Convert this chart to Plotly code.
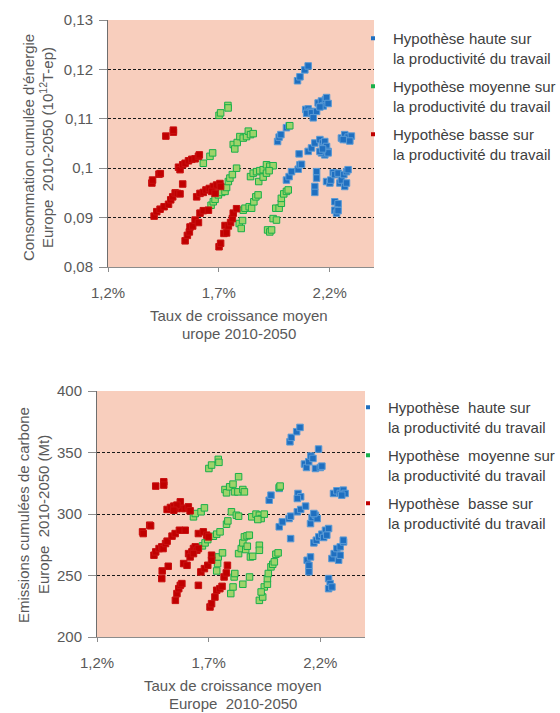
import plotly.graph_objects as go

# ---- Energy chart (growth rate in %, cumulated energy in 10^12 T-ep) ----
energy_haute_x = [2.055, 2.066, 2.088, 2.103, 2.092, 2.103, 2.112, 2.096, 2.118, 2.126, 2.141, 2.148,
                  2.163, 2.171, 2.181, 2.186, 2.193, 2.156, 1.965, 1.972, 1.980, 2.005, 2.017, 2.005,
                  2.017, 2.028, 2.058, 2.066, 2.073, 2.062, 2.103, 2.118, 2.133, 2.156, 2.168, 2.175,
                  2.178, 2.186, 2.193, 2.178, 2.163, 2.156, 2.193, 2.168, 2.141, 2.141, 2.133, 2.133,
                  2.186, 2.201, 2.205, 2.216, 2.223, 2.238, 2.246, 2.253, 2.264, 2.276, 2.283, 2.268,
                  2.276, 2.223, 2.238, 2.223, 2.231, 2.238, 2.253, 2.268, 2.276, 2.283, 2.298, 2.291,
                  2.261]
energy_haute_y = [0.1177, 0.1185, 0.1199, 0.1207, 0.1119, 0.1120, 0.1115, 0.1111, 0.1112, 0.1102, 0.1115,
                  0.1132, 0.1136, 0.1126, 0.1139, 0.1143, 0.1131, 0.1124, 0.1054, 0.1063, 0.1068, 0.1082,
                  0.1086, 0.0976, 0.0983, 0.0993, 0.0998, 0.1007, 0.1008, 0.1029, 0.1034, 0.1041, 0.1051,
                  0.1058, 0.1051, 0.1044, 0.1054, 0.1044, 0.1034, 0.1027, 0.1031, 0.1034, 0.1031, 0.1039,
                  0.0993, 0.0980, 0.0963, 0.0951, 0.0973, 0.0970, 0.0976, 0.0991, 0.0987, 0.0990, 0.0970,
                  0.0976, 0.0987, 0.0993, 0.0997, 0.0963, 0.0970, 0.0932, 0.0928, 0.0915, 0.0909, 0.0914,
                  0.1061, 0.1068, 0.1058, 0.1063, 0.1065, 0.1055, 0.1058]

energy_moyenne_x = [1.701, 1.708, 1.741, 1.742, 1.630, 1.660, 1.672, 1.665, 1.675, 1.683, 1.698, 1.713,
                    1.728, 1.735, 1.743, 1.750, 1.761, 1.780, 1.765, 1.772, 1.783, 1.795, 1.810, 1.825,
                    1.833, 1.843, 1.855, 1.792, 1.801, 1.807, 1.810, 1.818, 1.837, 1.848, 1.858, 1.867,
                    1.877, 1.843, 1.855, 1.870, 1.885, 1.900, 1.915, 1.930, 1.945, 1.880, 1.900, 1.915,
                    1.927, 1.920, 1.930, 1.938, 1.945, 1.960, 1.957, 1.972, 1.982, 1.982, 1.993, 2.005,
                    2.013, 2.020]
energy_moyenne_y = [0.1107, 0.1112, 0.1127, 0.1122, 0.1010, 0.1024, 0.1031, 0.0925, 0.0932, 0.0937, 0.0946,
                    0.0951, 0.0953, 0.0961, 0.0973, 0.0980, 0.0987, 0.1000, 0.1048, 0.1039, 0.1052, 0.1064,
                    0.1061, 0.1064, 0.1075, 0.1068, 0.1070, 0.0888, 0.0878, 0.0894, 0.0915, 0.0919, 0.0922,
                    0.0919, 0.0932, 0.0942, 0.0946, 0.0983, 0.0990, 0.0993, 0.0995, 0.0997, 0.1007, 0.1004,
                    0.1005, 0.0973, 0.0982, 0.0990, 0.0995, 0.0875, 0.0871, 0.0875, 0.0898, 0.0895, 0.0919,
                    0.0919, 0.0929, 0.0939, 0.0948, 0.0953, 0.0956, 0.1086]

energy_basse_x = [1.398, 1.401, 1.430, 1.436, 1.461, 1.495, 1.495, 1.408, 1.420, 1.435, 1.453, 1.473,
                  1.483, 1.492, 1.503, 1.513, 1.525, 1.537, 1.518, 1.525, 1.537, 1.548, 1.563, 1.578,
                  1.593, 1.608, 1.612, 1.548, 1.558, 1.567, 1.570, 1.582, 1.593, 1.608, 1.615, 1.630,
                  1.653, 1.600, 1.615, 1.630, 1.642, 1.657, 1.675, 1.690, 1.668, 1.683, 1.705, 1.708,
                  1.701, 1.708, 1.723, 1.735, 1.728, 1.743, 1.753, 1.761, 1.765, 1.780]
energy_basse_y = [0.0970, 0.0976, 0.0988, 0.0989, 0.1065, 0.1073, 0.1077, 0.0903, 0.0912, 0.0917, 0.0922,
                  0.0927, 0.0936, 0.0942, 0.0950, 0.0949, 0.0948, 0.0968, 0.1002, 0.0997, 0.1007, 0.1010,
                  0.1015, 0.1018, 0.1019, 0.1024, 0.1027, 0.0853, 0.0864, 0.0871, 0.0881, 0.0883, 0.0895,
                  0.0890, 0.0909, 0.0914, 0.0915, 0.0942, 0.0949, 0.0951, 0.0956, 0.0959, 0.0963, 0.0966,
                  0.0953, 0.0949, 0.0969, 0.0963, 0.0841, 0.0848, 0.0868, 0.0869, 0.0884, 0.0883, 0.0890,
                  0.0898, 0.0909, 0.0918]

# ---- Carbon chart (growth rate in %, cumulated emissions in Mt) ----
carbon_haute_x = [2.064, 2.070, 2.094, 2.109, 2.129, 2.138, 2.148, 2.158, 2.167, 2.178, 2.192, 2.200,
                  2.207, 1.971, 1.979, 2.016, 2.100, 2.112, 2.097, 2.016, 2.030, 2.060, 2.067, 2.067,
                  2.097, 2.112, 2.134, 2.156, 2.163, 2.178, 2.186, 2.171, 2.141, 2.149, 2.149, 2.156,
                  2.171, 2.182, 2.193, 2.207, 2.215, 2.223, 2.237, 2.229, 2.237, 2.244, 2.237, 2.252,
                  2.252, 2.262, 2.274, 2.289, 2.282, 2.304, 2.303, 2.289, 2.259, 2.274, 2.289, 2.303,
                  2.311, 2.296]
carbon_haute_y = [358.7, 362.3, 366.9, 370.4, 340.6, 337.8, 342.5, 347.1, 345.2, 337.0, 352.8, 337.8,
                  338.9, 311.2, 315.3, 320.8, 316.7, 314.0, 312.6, 289.6, 293.6, 296.3, 298.2, 280.0,
                  301.8, 303.7, 306.4, 292.2, 297.1, 299.0, 296.3, 300.4, 262.4, 258.3, 253.0, 265.1,
                  276.5, 278.7, 281.4, 283.6, 280.9, 286.8, 288.2, 282.8, 247.5, 243.4, 239.3, 240.7,
                  263.8, 267.8, 271.9, 273.3, 262.4, 277.3, 278.7, 266.5, 316.7, 318.9, 316.7, 319.4,
                  316.7, 315.3]

carbon_moyenne_x = [1.701, 1.713, 1.743, 1.746, 1.632, 1.640, 1.666, 1.681, 1.672, 1.684, 1.696, 1.721,
                    1.736, 1.751, 1.780, 1.786, 1.740, 1.736, 1.743, 1.762, 1.773, 1.780, 1.794, 1.809,
                    1.816, 1.831, 1.853, 1.860, 1.834, 1.802, 1.824, 1.834, 1.799, 1.809, 1.814, 1.817,
                    1.853, 1.834, 1.846, 1.853, 1.860, 1.872, 1.882, 1.866, 1.873, 1.887, 1.897, 1.883,
                    1.893, 1.912, 1.927, 1.935, 1.949, 1.920, 1.927, 1.942, 1.949, 1.963, 1.935, 1.963,
                    1.927, 1.927, 1.967, 1.979, 1.987, 1.994, 2.001, 2.011, 2.016, 2.020]
carbon_moyenne_y = [337.0, 339.8, 344.4, 342.0, 297.7, 300.4, 301.8, 305.0, 274.1, 276.5, 279.2, 281.9,
                    283.6, 285.5, 291.7, 294.4, 259.7, 253.7, 265.1, 268.4, 319.9, 317.2, 322.1, 324.3,
                    318.0, 318.0, 319.9, 318.0, 330.3, 301.8, 299.0, 298.2, 235.3, 240.7, 248.8, 251.6,
                    242.9, 267.8, 271.9, 276.5, 281.4, 282.2, 282.8, 271.1, 273.8, 265.1, 265.6, 248.8,
                    297.7, 299.9, 299.0, 296.3, 299.9, 295.5, 229.8, 232.5, 240.7, 242.9, 236.6, 247.5,
                    274.6, 270.5, 251.6, 257.0, 259.1, 261.1, 267.3, 268.4, 321.6, 322.7]

carbon_basse_x = [1.404, 1.407, 1.436, 1.440, 1.463, 1.499, 1.499, 1.455, 1.463, 1.478, 1.490, 1.496,
                  1.507, 1.514, 1.492, 1.490, 1.519, 1.514, 1.529, 1.544, 1.558, 1.573, 1.580, 1.595,
                  1.609, 1.617, 1.558, 1.544, 1.536, 1.550, 1.569, 1.595, 1.551, 1.558, 1.566, 1.573,
                  1.580, 1.588, 1.603, 1.610, 1.625, 1.632, 1.640, 1.647, 1.654, 1.617, 1.632, 1.654,
                  1.676, 1.691, 1.699, 1.665, 1.681, 1.696, 1.713, 1.713, 1.654, 1.706, 1.713, 1.728,
                  1.736, 1.750, 1.760, 1.769, 1.779, 1.784]
carbon_basse_y = [285.5, 284.1, 290.9, 290.4, 322.7, 326.2, 323.5, 266.5, 269.2, 271.9, 273.3, 271.9,
                  276.0, 277.9, 253.7, 247.5, 257.5, 303.7, 305.3, 306.4, 304.5, 309.9, 304.5, 304.5,
                  305.8, 302.6, 307.2, 303.1, 282.0, 284.1, 286.8, 286.8, 229.8, 235.3, 239.3, 242.0,
                  243.4, 259.7, 258.3, 267.8, 269.2, 271.9, 273.3, 270.5, 271.9, 265.1, 267.8, 284.1,
                  285.5, 282.8, 281.4, 252.9, 255.6, 258.3, 266.5, 262.4, 242.0, 224.4, 227.1, 232.5,
                  238.0, 239.3, 241.2, 248.8, 252.1, 258.3]

# ---- Axis ticks and labels ----
x_ticks = [1.2, 1.7, 2.2]
x_tick_labels = ["1,2%", "1,7%", "2,2%"]
energy_ticks = [0.08, 0.09, 0.10, 0.11, 0.12, 0.13]
energy_tick_labels = ["0,08", "0,09", "0,1", "0,11", "0,12", "0,13"]
carbon_ticks = [200, 250, 300, 350, 400]
carbon_tick_labels = ["200", "250", "300", "350", "400"]

legend_energy = ["Hypothèse haute sur<br>la productivité du travail",
                 "Hypothèse moyenne sur<br>la productivité du travail",
                 "Hypothèse basse sur<br>la productivité du travail"]
legend_carbon = ["Hypothèse\u00a0 haute sur<br>la productivité du travail",
                 "Hypothèse\u00a0 moyenne sur<br>la productivité du travail",
                 "Hypothèse\u00a0 basse sur<br>la productivité du travail"]

FONT = "Liberation Sans, Arial, sans-serif"
TXT = "#595959"
BG = "#F8CEBD"

styles = [
    dict(color="#1F6FC0", line=dict(color="#5B9BD5", width=1)),   # haute
    dict(color="#9ED36A", line=dict(color="#18B04A", width=1)),   # moyenne
    dict(color="#C00000", line=dict(color="#C81010", width=1)),   # basse
]
legend_key_colors = ["#1F6FC0", "#18B04A", "#C00000"]

fig = go.Figure()

panels = [
    ("x", "y", "legend",
     [(energy_haute_x, energy_haute_y), (energy_moyenne_x, energy_moyenne_y), (energy_basse_x, energy_basse_y)],
     legend_energy),
    ("x2", "y2", "legend2",
     [(carbon_haute_x, carbon_haute_y), (carbon_moyenne_x, carbon_moyenne_y), (carbon_basse_x, carbon_basse_y)],
     legend_carbon),
]

for xa, ya, lg, series, names in panels:
    for (sx, sy), st in zip(series, styles):
        fig.add_trace(go.Scatter(
            x=sx, y=sy, xaxis=xa, yaxis=ya, mode="markers", showlegend=False,
            marker=dict(symbol="square", size=6.5, color=st["color"], line=st["line"]),
            hoverinfo="skip"))
    # small legend keys, one group each so that the group gap spaces the entries
    for i, (name, kc) in enumerate(zip(names, legend_key_colors)):
        fig.add_trace(go.Scatter(
            x=[None], y=[None], xaxis=xa, yaxis=ya, mode="markers", name=name, legend=lg,
            legendgroup=f"{lg}-{i}",
            marker=dict(symbol="square", size=4, color=kc, line=dict(width=0))))

def xaxis(domain, anchor):
    return dict(domain=domain, range=[1.2, 2.4], tickvals=x_ticks, ticktext=x_tick_labels, anchor=anchor,
                automargin=False, showgrid=False, zeroline=False, showline=True,
                linecolor="#8C8C8C", linewidth=1,
                ticks="outside", ticklen=4, tickcolor="#8C8C8C", ticklabelstandoff=8,
                tickfont=dict(family=FONT, size=15, color=TXT))

def yaxis(domain, rng, vals, labels, anchor):
    return dict(domain=domain, range=rng, tickvals=vals, ticktext=labels, anchor=anchor,
                automargin=False, showgrid=True, gridcolor="#1A1A1A", gridwidth=1, griddash="3px,2px",
                zeroline=False, showline=True, linecolor="#6E6E6E", linewidth=1,
                ticks="outside", ticklen=8, tickcolor="#8C8C8C", ticklabelstandoff=3,
                tickfont=dict(family=FONT, size=15, color=TXT))

W, H = 560, 713
legend_common = dict(xanchor="left", yanchor="top", bgcolor="rgba(0,0,0,0)",
                     font=dict(family=FONT, size=15, color="#404040"), tracegroupgap=6,
                     itemwidth=30, valign="top")
fig.update_layout(
    width=W, height=H, margin=dict(l=0, r=0, t=0, b=0, autoexpand=False),
    paper_bgcolor="white", plot_bgcolor=BG,
    xaxis=xaxis([108 / W, 374 / W], "y"),
    yaxis=yaxis([1 - 267 / H, 1 - 20 / H], [0.08, 0.13], energy_ticks, energy_tick_labels, "x"),
    xaxis2=xaxis([97 / W, 365 / W], "y2"),
    yaxis2=yaxis([1 - 637 / H, 1 - 391 / H], [200, 400], carbon_ticks, carbon_tick_labels, "x2"),
    legend=dict(legend_common, x=353 / W, y=1 - 22 / H),
    legend2=dict(legend_common, x=348 / W, y=1 - 391 / H),
    font=dict(family=FONT, color=TXT),
)

# axis titles
titles = [
    ("Consommation cumulée d'énergie", 28, 148, -90),
    ("Europe\u00a0 2010-2050 (10<sup>12</sup>T-ep)", 46, 148, -90),
    ("Taux de croissance moyen", 239, 315, 0),
    ("urope 2010-2050", 239, 333, 0),
    ("Emissions cumulées de carbone", 23, 515, -90),
    ("Europe\u00a0 2010-2050 (Mt)", 43, 515, -90),
    ("Taux de croissance moyen", 233, 685, 0),
    ("Europe\u00a0 2010-2050", 233, 703, 0),
]
for text, px, py, ang in titles:
    fig.add_annotation(text=text, x=px / W, y=1 - py / H, xref="paper", yref="paper",
                       xanchor="center", yanchor="middle", showarrow=False, textangle=ang,
                       font=dict(family=FONT, size=15, color=TXT))

fig.write_html("out.html")
